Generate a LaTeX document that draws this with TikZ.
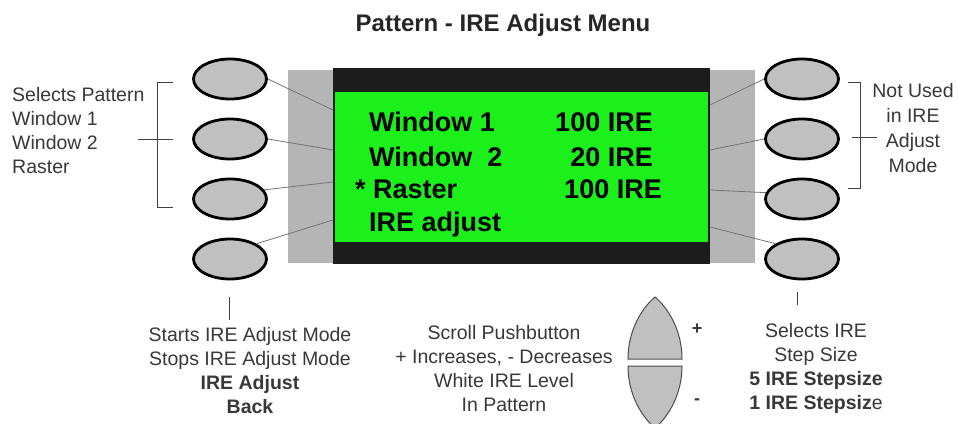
\documentclass[tikz,border=0pt]{standalone}
\usepackage{fontspec}
\setmainfont{Liberation Sans}
\usetikzlibrary{shapes.geometric}
\definecolor{btn}{HTML}{C0C0C0}
\definecolor{panel}{HTML}{B5B5B5}
\definecolor{scr}{HTML}{1C1C1C}
\definecolor{lcd}{HTML}{1BF01B}
\definecolor{txt}{HTML}{383838}
\begin{document}
\begin{tikzpicture}[x=1pt,y=-1pt,
  btnnode/.style={ellipse, draw=black, line width=2.8pt, fill=btn, minimum width=73pt, minimum height=40pt, inner sep=0pt},
  lead/.style={draw=black!55, line width=0.8pt},
  brk/.style={draw=black!75, line width=1pt},
  lbl/.style={font=\fontsize{19.5}{24}\selectfont, text=txt, inner sep=0pt},
  scrtxt/.style={font=\fontsize{27}{30}\selectfont\bfseries, text=black, inner sep=0pt},
  scroll/.style={draw=black!70, line width=1pt, fill=btn}]
\useasboundingbox[fill=white] (0,0) rectangle (958,423);

% title
\node[font=\fontsize{24}{28}\selectfont\bfseries, text=black!85] (title) at (503,25) {Pattern - IRE Adjust Menu};

% panel and screen
\fill[panel] (288,70) rectangle (755,263);
\fill[scr] (333,68) rectangle (710,264);
\fill[lcd] (335,92) rectangle (708,242);

% screen text
\node[scrtxt, anchor=base west] (w1) at (369,131.5) {Window 1};
\node[scrtxt, anchor=base east] (v1) at (653,131.5) {100 IRE};
\node[scrtxt, anchor=base west] (w2) at (369,166.5) {Window\ \ 2};
\node[scrtxt, anchor=base east] (v2) at (653,166.5) {20 IRE};
\node[scrtxt, anchor=base west] (ra) at (355,198.5) {* Raster};
\node[scrtxt, anchor=base east] (v3) at (662,198.5) {100 IRE};
\node[scrtxt, anchor=base west] (ad) at (369,231.5) {IRE adjust};

% screen edge coordinates
\coordinate (sl1) at (333,110);
\coordinate (sl2) at (333,150);
\coordinate (sl3) at (333,182);
\coordinate (sl4) at (333,220);
\coordinate (sr1) at (710,105);
\coordinate (sr2) at (710,150);
\coordinate (sr3) at (710,190);
\coordinate (sr4) at (710,227);

% buttons
\node[btnnode] (L1) at (230,79) {};
\node[btnnode] (L2) at (230,139) {};
\node[btnnode] (L3) at (230,199) {};
\node[btnnode] (L4) at (230,259) {};
\node[btnnode] (R1) at (802,79) {};
\node[btnnode] (R2) at (802,139) {};
\node[btnnode] (R3) at (802,199) {};
\node[btnnode] (R4) at (802,259) {};

% leads
\draw[lead] (L1.east) -- (sl1);
\draw[lead] (L2.east) -- (sl2);
\draw[lead] (L3.15) -- (sl3);
\draw[lead] (L4.30) -- (sl4);
\draw[lead] (R1.west) -- (sr1);
\draw[lead] (R2.west) -- (sr2);
\draw[lead] (R3.170) -- (sr3);
\draw[lead] (R4.150) -- (sr4);

% left bracket and label
\draw[brk] (173,82) -- (157,82) -- (157,207) -- (173,207);
\draw[brk] (138,139) -- (173,139);
\node[lbl, align=left, anchor=west] (selpat) at (12,131) {Selects Pattern\\Window 1\\Window 2\\Raster};

% right bracket and label
\draw[brk] (848,82) -- (860,82) -- (860,188) -- (848,188);
\draw[brk] (852,137) -- (877,137);
\node[lbl, align=center, font=\fontsize{19.5}{25}\selectfont] (notused) at (913,128) {Not Used\\in IRE\\Adjust\\Mode};

% bottom left
\draw[brk] (229,297) -- (229,320);
\node[lbl, align=center] (irelbl) at (250,371) {Starts IRE Adjust Mode\\Stops IRE Adjust Mode\\\textbf{IRE Adjust}\\\textbf{Back}};

% scroll pushbutton
\node[lbl, align=center] (scrlbl) at (504,369) {Scroll Pushbutton\\+ Increases, - Decreases\\White IRE Level\\In Pattern};
\path[scroll] (628,359) .. controls (628,330) and (642,308) .. (655,297) .. controls (668,308) and (682,330) .. (682,359) -- cycle;
\path[scroll] (628,366) -- (682,366) .. controls (682,395) and (668,417) .. (655,428) .. controls (642,417) and (628,395) .. (628,366) -- cycle;
\node[font=\fontsize{18}{20}\selectfont\bfseries, text=txt] (plus) at (697,329) {+};
\node[font=\fontsize{18}{20}\selectfont\bfseries, text=txt] (minus) at (697,402) {-};

% bottom right
\draw[brk] (797,292) -- (797,305);
\node[lbl, align=center] (steplbl) at (816,368) {Selects IRE\\Step Size\\\textbf{5 IRE Stepsize}\\\textbf{1 IRE Stepsiz}e};
\end{tikzpicture}
\end{document}
